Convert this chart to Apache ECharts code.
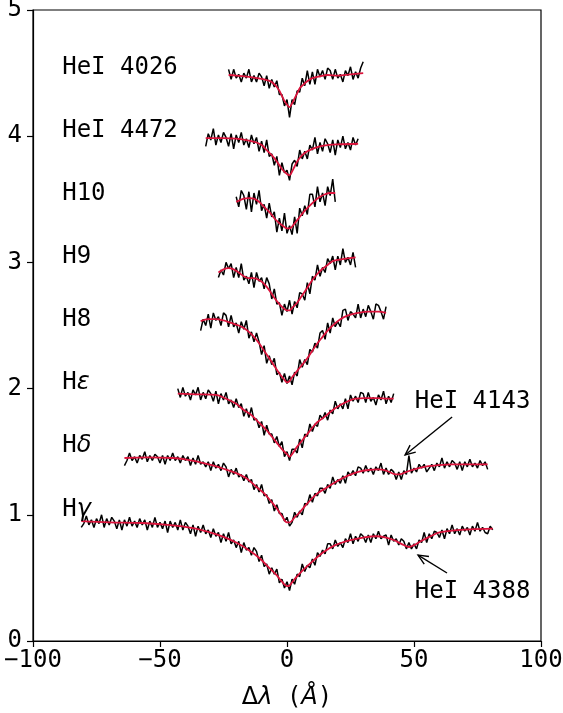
<!DOCTYPE html>
<html>
<head>
<meta charset="utf-8">
<script src="https://cdn.jsdelivr.net/npm/echarts@6/dist/echarts.min.js"></script>
<style>
  html, body { margin: 0; padding: 0; background: #fff; }
  #chart { width: 563px; height: 713px; }
</style>
</head>
<body>
<div id="chart"></div>
<script>
// Normalised line profiles (offset vertically), observed flux on a 1 Å grid
// plus the fitted model for each line. Δλ in Å.

const lineNames = ['HeI 4026', 'HeI 4472', 'H10', 'H9', 'H8', 'Hε', 'Hδ', 'Hγ'];
const lineLabelLevels = [4.5, 4.0, 3.5, 3.0, 2.5, 2.0, 1.5, 1.0];

const blendNames = ['HeI 4143', 'HeI 4388'];
const blendLabelLevels = [1.85, 0.35];
// arrow tail (x, y) -> head (x, y)
const blendArrows = [
  [65.0, 1.775, 46.5, 1.474],
  [63.0, 0.539, 51.6, 0.681]
];

// ---- HeI 4026 ----
const hei4026Start = -23;
const hei4026Flux = [4.53,4.45,4.53,4.46,4.49,4.43,4.50,4.46,4.53,4.43,4.48,4.43,4.50,4.47,4.40,4.48,4.38,4.45,4.39,4.44,4.33,4.33,4.24,4.29,4.15,4.29,4.25,4.36,4.35,4.46,4.40,4.52,4.41,4.51,4.41,4.53,4.47,4.52,4.45,4.54,4.52,4.45,4.53,4.46,4.49,4.43,4.52,4.48,4.55,4.45,4.51,4.46,4.54,4.59];
const hei4026ModelX = [-23,-20,-15,-10,-8,-6,-4,-3,-2,-1,0,1,2,3,4,5,6,7,8,10,13,16,20,25,30];
const hei4026ModelY = [4.485,4.48,4.47,4.455,4.445,4.43,4.39,4.36,4.32,4.28,4.25,4.23,4.26,4.30,4.34,4.38,4.40,4.42,4.435,4.46,4.475,4.485,4.48,4.49,4.50];

// ---- HeI 4472 ----
const hei4472Start = -32;
const hei4472Flux = [3.92,4.02,3.97,4.06,3.93,4.01,3.95,4.03,3.99,3.92,4.02,3.90,4.01,3.95,4.03,3.93,3.98,3.91,4.01,3.94,3.99,3.88,3.96,3.87,3.97,3.84,3.86,3.77,3.84,3.69,3.79,3.71,3.73,3.65,3.78,3.81,3.76,3.89,3.82,3.88,3.82,3.93,3.89,3.99,3.86,3.95,3.88,3.98,3.94,3.87,3.97,3.85,3.97,3.91,4.00,3.90,3.95,3.89,3.99,3.93,3.98];
const hei4472ModelX = [-32,-25,-20,-15,-12,-10,-8,-6,-4,-2,0,1,2,3,4,6,8,10,13,16,20,28];
const hei4472ModelY = [3.985,3.985,3.98,3.965,3.95,3.93,3.89,3.85,3.80,3.74,3.70,3.69,3.72,3.76,3.80,3.85,3.88,3.90,3.92,3.93,3.935,3.94];

// ---- H10 ----
const h10Start = -20;
const h10Flux = [3.52,3.44,3.57,3.53,3.42,3.56,3.40,3.55,3.46,3.57,3.41,3.46,3.35,3.47,3.36,3.40,3.24,3.35,3.25,3.39,3.23,3.29,3.22,3.36,3.23,3.43,3.37,3.45,3.38,3.54,3.54,3.44,3.60,3.48,3.55,3.45,3.60,3.53,3.66,3.48];
const h10ModelX = [-20,-17,-15,-13,-11,-9,-7,-5,-3,-1,0,1,3,5,7,9,11,13,15,17,19];
const h10ModelY = [3.48,3.505,3.51,3.505,3.48,3.44,3.40,3.35,3.31,3.28,3.27,3.27,3.31,3.36,3.41,3.45,3.49,3.52,3.54,3.55,3.55];

// ---- H9 ----
const h9Start = -27;
const h9Flux = [2.88,2.94,2.90,3.00,2.95,2.99,2.88,2.96,2.88,2.99,2.86,2.89,2.83,2.92,2.80,2.92,2.85,2.88,2.79,2.88,2.83,2.71,2.79,2.67,2.68,2.58,2.67,2.61,2.70,2.59,2.69,2.64,2.76,2.75,2.70,2.84,2.75,2.89,2.86,2.98,2.89,2.96,2.92,3.03,2.99,3.05,2.94,3.05,2.98,3.11,3.00,3.04,2.98,3.08,2.96];
const h9ModelX = [-27,-25,-23,-21,-19,-17,-15,-13,-11,-9,-7,-5,-3,-1,0,1,2,4,6,8,10,12,14,16,18,20,23,27];
const h9ModelY = [2.92,2.945,2.955,2.945,2.92,2.89,2.875,2.875,2.86,2.83,2.78,2.72,2.67,2.63,2.62,2.62,2.64,2.68,2.74,2.80,2.86,2.91,2.95,2.98,3.01,3.02,3.03,3.04];

// ---- H8 ----
const h8Start = -34;
const h8Flux = [2.46,2.55,2.50,2.59,2.48,2.60,2.54,2.57,2.50,2.60,2.58,2.49,2.58,2.49,2.52,2.44,2.53,2.47,2.54,2.40,2.45,2.37,2.44,2.37,2.27,2.34,2.20,2.26,2.19,2.24,2.11,2.13,2.05,2.12,2.04,2.10,2.03,2.13,2.10,2.23,2.17,2.23,2.19,2.31,2.29,2.36,2.32,2.44,2.46,2.39,2.52,2.44,2.56,2.49,2.53,2.49,2.62,2.63,2.54,2.61,2.59,2.56,2.67,2.56,2.63,2.57,2.66,2.61,2.55,2.67,2.66,2.61,2.55,2.65];
const h8ModelX = [-34,-31,-28,-25,-22,-19,-17,-15,-13,-11,-9,-7,-5,-3,-1,0,1,2,4,6,8,10,12,14,16,18,21,24,28,32,36,39];
const h8ModelY = [2.535,2.55,2.55,2.54,2.52,2.50,2.48,2.45,2.41,2.36,2.30,2.24,2.18,2.12,2.07,2.05,2.06,2.09,2.14,2.19,2.24,2.30,2.36,2.41,2.46,2.50,2.55,2.58,2.60,2.61,2.61,2.60];

// ---- H epsilon ----
const hepsStart = -43;
const hepsFlux = [2.00,1.93,2.01,1.94,1.97,1.91,1.99,1.95,2.01,1.91,1.97,1.92,1.99,1.96,1.90,1.98,1.88,1.96,1.91,1.97,1.88,1.91,1.85,1.92,1.85,1.88,1.78,1.84,1.77,1.85,1.75,1.76,1.69,1.74,1.63,1.71,1.64,1.64,1.57,1.62,1.54,1.58,1.46,1.50,1.43,1.52,1.52,1.49,1.60,1.53,1.64,1.62,1.72,1.66,1.72,1.70,1.79,1.76,1.81,1.75,1.83,1.80,1.90,1.84,1.88,1.84,1.92,1.84,1.95,1.90,1.94,1.89,1.97,1.96,1.89,1.97,1.90,1.93,1.87,1.95,1.91,1.98,1.88,1.94,1.89,1.96];
const hepsModelX = [-43,-35,-28,-24,-20,-17,-14,-11,-8,-6,-4,-2,0,1,2,4,6,8,10,12,15,18,21,24,27,31,35,40,42];
const hepsModelY = [1.96,1.955,1.95,1.92,1.88,1.83,1.79,1.73,1.67,1.62,1.57,1.52,1.48,1.46,1.48,1.54,1.59,1.64,1.69,1.735,1.78,1.83,1.87,1.90,1.92,1.925,1.925,1.92,1.92];

// ---- H delta ----
const hdeltaStart = -64;
const hdeltaFlux = [1.39,1.43,1.49,1.43,1.46,1.41,1.47,1.44,1.50,1.42,1.47,1.43,1.48,1.46,1.41,1.47,1.40,1.47,1.43,1.49,1.43,1.46,1.41,1.47,1.43,1.46,1.39,1.45,1.40,1.47,1.40,1.42,1.38,1.42,1.35,1.42,1.37,1.40,1.35,1.41,1.38,1.30,1.36,1.32,1.37,1.30,1.32,1.27,1.32,1.26,1.28,1.20,1.24,1.18,1.24,1.15,1.16,1.09,1.12,1.03,1.08,1.01,1.01,0.95,0.98,0.91,0.94,1.02,0.98,1.03,1.00,1.09,1.08,1.16,1.10,1.17,1.15,1.21,1.21,1.17,1.24,1.21,1.30,1.24,1.28,1.25,1.31,1.25,1.34,1.31,1.35,1.31,1.38,1.37,1.33,1.39,1.34,1.37,1.32,1.38,1.35,1.41,1.32,1.37,1.32,1.36,1.34,1.28,1.34,1.28,1.35,1.32,1.47,1.33,1.37,1.34,1.40,1.37,1.40,1.34,1.37,1.40,1.35,1.41,1.38,1.45,1.37,1.42,1.38,1.43,1.41,1.36,1.42,1.35,1.42,1.38,1.44,1.38,1.41,1.37,1.43,1.39,1.42,1.36];
const hdeltaModelX = [-64,-55,-45,-40,-35,-30,-25,-20,-16,-12,-9,-6,-4,-2,0,1,3,5,8,12,16,20,24,28,32,36,39,42,44,47,50,54,58,65,72,79];
const hdeltaModelY = [1.45,1.455,1.45,1.44,1.42,1.395,1.365,1.33,1.29,1.22,1.17,1.10,1.05,0.99,0.94,0.94,0.98,1.02,1.09,1.17,1.22,1.27,1.31,1.34,1.355,1.36,1.35,1.325,1.32,1.34,1.36,1.38,1.39,1.40,1.40,1.40];

// ---- H gamma ----
const hgammaStart = -81;
const hgammaFlux = [0.90,0.93,0.99,0.92,0.96,0.90,0.97,0.93,1.00,0.90,0.97,0.92,0.98,0.95,0.89,0.96,0.88,0.96,0.91,0.98,0.91,0.95,0.90,0.97,0.92,0.96,0.88,0.95,0.90,0.98,0.90,0.94,0.89,0.95,0.86,0.95,0.90,0.94,0.88,0.96,0.88,0.94,0.91,0.85,0.92,0.83,0.91,0.86,0.92,0.85,0.88,0.82,0.89,0.83,0.86,0.78,0.85,0.79,0.86,0.77,0.80,0.74,0.79,0.70,0.78,0.72,0.74,0.68,0.74,0.71,0.63,0.68,0.59,0.61,0.53,0.58,0.53,0.57,0.46,0.49,0.42,0.47,0.40,0.49,0.45,0.53,0.51,0.61,0.55,0.60,0.58,0.65,0.60,0.70,0.67,0.72,0.69,0.77,0.77,0.73,0.80,0.75,0.78,0.74,0.81,0.78,0.85,0.77,0.83,0.79,0.85,0.83,0.78,0.84,0.78,0.85,0.81,0.87,0.81,0.83,0.84,0.76,0.84,0.79,0.81,0.76,0.81,0.79,0.73,0.78,0.73,0.77,0.73,0.80,0.78,0.86,0.78,0.85,0.81,0.87,0.86,0.82,0.88,0.81,0.89,0.85,0.92,0.85,0.89,0.84,0.91,0.87,0.90,0.84,0.91,0.87,0.94,0.87,0.90,0.86,0.85,0.91,0.88];
const hgammaModelX = [-81,-70,-57,-47,-37,-31,-25,-20,-15,-11,-7,-4,-2,0,1,3,6,10,14,19,25,30,35,39,42,45,48,50,53,56,60,65,72,81];
const hgammaModelY = [0.95,0.94,0.935,0.92,0.895,0.865,0.825,0.78,0.72,0.66,0.58,0.52,0.47,0.435,0.44,0.49,0.555,0.63,0.70,0.76,0.80,0.82,0.83,0.82,0.80,0.77,0.745,0.76,0.795,0.825,0.86,0.875,0.885,0.89];

const profiles = [
  { start: hei4026Start, flux: hei4026Flux, mx: hei4026ModelX, my: hei4026ModelY },
  { start: hei4472Start, flux: hei4472Flux, mx: hei4472ModelX, my: hei4472ModelY },
  { start: h10Start, flux: h10Flux, mx: h10ModelX, my: h10ModelY },
  { start: h9Start, flux: h9Flux, mx: h9ModelX, my: h9ModelY },
  { start: h8Start, flux: h8Flux, mx: h8ModelX, my: h8ModelY },
  { start: hepsStart, flux: hepsFlux, mx: hepsModelX, my: hepsModelY },
  { start: hdeltaStart, flux: hdeltaFlux, mx: hdeltaModelX, my: hdeltaModelY },
  { start: hgammaStart, flux: hgammaFlux, mx: hgammaModelX, my: hgammaModelY }
];

const MONO = '"DejaVu Sans Mono", monospace';
const SANS = '"DejaVu Sans", sans-serif';
const TXT = 24;
const LABEL_X = -88.5;
const BASELINE_SHIFT = -5.5; // px, puts the text baseline on the anchor level

const greek = { 'ε': 1, 'δ': 1, 'γ': 1, 'λ': 1 };
function richName(name) {
  let out = '';
  for (const ch of name) {
    out += greek[ch] ? '{g|' + ch + '}' : '{m|' + ch + '}';
  }
  return out;
}
const richStyles = {
  m: { fontFamily: MONO, fontSize: TXT, color: '#000', opacity: 1 },
  g: { fontFamily: SANS, fontStyle: 'italic', fontSize: TXT, color: '#000', opacity: 1 }
};

const series = [];
profiles.forEach(p => {
  series.push({
    type: 'line',
    data: p.flux.map((v, i) => [p.start + i, v]),
    showSymbol: false,
    symbol: 'none',
    silent: true,
    z: 2,
    lineStyle: { color: '#000', width: 1.5 }
  });
});
profiles.forEach(p => {
  series.push({
    type: 'line',
    data: p.mx.map((x, i) => [x, p.my[i]]),
    showSymbol: false,
    symbol: 'none',
    smooth: 0.35,
    silent: true,
    z: 3,
    lineStyle: { color: '#dc143c', width: 1.8 }
  });
});

const textLabel = {
  show: true,
  position: 'right',
  distance: 0,
  offset: [0, BASELINE_SHIFT],
  color: '#000',
  opacity: 1,
  fontFamily: MONO,
  fontSize: TXT,
  formatter: p => richName(p.name),
  rich: richStyles
};

series.push({
  type: 'scatter',
  symbolSize: 0,
  silent: true,
  z: 5,
  itemStyle: { color: '#000', opacity: 1 },
  data: lineNames.map((n, i) => ({ name: n, value: [LABEL_X, lineLabelLevels[i]] })),
  label: textLabel
});
series.push({
  type: 'scatter',
  symbolSize: 0,
  silent: true,
  z: 5,
  itemStyle: { color: '#000', opacity: 1 },
  data: blendNames.map((n, i) => ({ name: n, value: [50.3, blendLabelLevels[i]] })),
  label: textLabel
});

series.push({
  type: 'custom',
  silent: true,
  z: 6,
  data: blendArrows,
  encode: { x: [0, 2], y: [1, 3] },
  renderItem(params, api) {
    const a = api.coord([api.value(0), api.value(1)]);
    const b = api.coord([api.value(2), api.value(3)]);
    const ang = Math.atan2(b[1] - a[1], b[0] - a[0]);
    const L = 11, w = 0.42;
    const p1 = [b[0] - L * Math.cos(ang - w), b[1] - L * Math.sin(ang - w)];
    const p2 = [b[0] - L * Math.cos(ang + w), b[1] - L * Math.sin(ang + w)];
    return {
      type: 'group',
      children: [
        { type: 'line', shape: { x1: a[0], y1: a[1], x2: b[0], y2: b[1] },
          style: { stroke: '#000', lineWidth: 1.4 } },
        { type: 'polyline', shape: { points: [p1, b, p2] },
          style: { stroke: '#000', lineWidth: 1.4, fill: null } }
      ]
    };
  }
});

const axisCommon = {
  type: 'value',
  axisLine: { show: true, onZero: false, lineStyle: { color: '#000', width: 1.2 } },
  axisTick: { show: true, inside: false, length: 6, lineStyle: { color: '#000', width: 1.2 } },
  splitLine: { show: false },
  axisLabel: {
    fontFamily: MONO, fontSize: 24, color: '#000',
    showMinLabel: true, showMaxLabel: true,
    formatter: v => String(v).replace('-', '\u2212')
  }
};

const chart = echarts.init(document.getElementById('chart'), null, { renderer: 'canvas' });
chart.setOption({
  animation: false,
  backgroundColor: '#fff',
  grid: {
    left: 33, right: 22, top: 10, bottom: 72,
    show: true, borderColor: '#000', borderWidth: 1.2,
    containLabel: false, outerBoundsMode: 'none'
  },
  xAxis: Object.assign({}, axisCommon, {
    min: -100, max: 100, interval: 50,
    axisLabel: Object.assign({}, axisCommon.axisLabel, { margin: 8 }),
    name: '{g|Δ}{l|λ}{m| (}{l|Å}{m|)}',
    nameLocation: 'middle',
    nameGap: 45,
    nameTextStyle: {
      rich: {
        g: { fontFamily: SANS, fontSize: TXT, color: '#000' },
        l: { fontFamily: SANS, fontStyle: 'italic', fontSize: TXT, color: '#000' },
        m: { fontFamily: MONO, fontSize: TXT, color: '#000' }
      }
    }
  }),
  yAxis: Object.assign({}, axisCommon, {
    min: 0, max: 5, interval: 1,
    axisLabel: Object.assign({}, axisCommon.axisLabel, { margin: 11, padding: [4, 0, 0, 0] })
  }),
  series: series
});
</script>
</body>
</html>
